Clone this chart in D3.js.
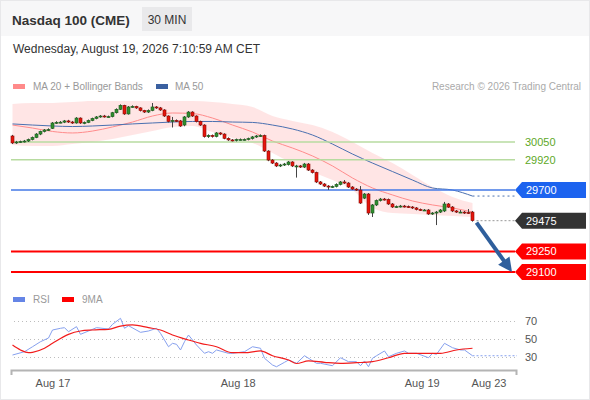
<!DOCTYPE html>
<html>
<head>
<meta charset="utf-8">
<script src="https://cdn.jsdelivr.net/npm/d3@7"></script>
<style>
  body { margin: 0; background: #fff; }
  svg text { font-family: "Liberation Sans", Arial, sans-serif; }
  .axis .domain { stroke: #b4b4b4; stroke-width: 2; }
  .axis text { fill: #555; font-size: 11px; }
  .rsi-axis .domain { display: none; }
  .rsi-axis line { stroke: #bdbdbd; stroke-dasharray: 1,3; }
  .rsi-axis text { fill: #555; font-size: 11px; }
</style>
</head>
<body>
<div id="chart"></div>
<script>

// ---- 30 min candles, index 0 = first bar on the left ----
var opens = [
  30094, 30043, 30050, 30053, 30057, 30068, 30083, 30108, 30127, 30138,
  30150, 30189, 30194, 30195, 30204, 30196, 30189, 30225, 30189, 30193,
  30207, 30222, 30233, 30240, 30235, 30235, 30264, 30289, 30318, 30255,
  30306, 30310, 30299, 30280, 30269, 30280, 30306, 30299, 30284, 30240,
  30200, 30208, 30204, 30174, 30233, 30269, 30240, 30200, 30174, 30089,
  30098, 30090, 30116, 30108, 30077, 30065, 30061, 30068, 30068, 30069,
  30075, 30087, 30094, 30097, 29984, 29918, 29896, 29875, 29882, 29885,
  29904, 29875, 29875, 29867, 29889, 29845, 29827, 29758, 29743, 29728,
  29721, 29725, 29740, 29758, 29750, 29721, 29706, 29699, 29640, 29670,
  29531, 29590, 29622, 29633, 29630, 29597, 29575, 29578, 29582, 29578,
  29575, 29568, 29557, 29553, 29553, 29524, 29531, 29538, 29546, 29597,
  29575, 29546, 29538, 29538, 29535, 29538
];
var closes = [
  30043, 30050, 30053, 30057, 30068, 30083, 30108, 30127, 30138, 30141,
  30189, 30194, 30195, 30204, 30196, 30189, 30225, 30189, 30193, 30207,
  30222, 30233, 30240, 30235, 30235, 30264, 30289, 30318, 30255, 30306,
  30310, 30299, 30280, 30269, 30280, 30306, 30299, 30284, 30240, 30200,
  30208, 30204, 30167, 30233, 30269, 30240, 30200, 30174, 30089, 30098,
  30090, 30116, 30108, 30077, 30065, 30061, 30068, 30068, 30069, 30075,
  30087, 30094, 30097, 29984, 29918, 29896, 29875, 29882, 29889, 29904,
  29875, 29875, 29867, 29889, 29845, 29827, 29758, 29743, 29728, 29721,
  29725, 29740, 29758, 29750, 29721, 29706, 29699, 29604, 29670, 29531,
  29590, 29622, 29633, 29630, 29597, 29575, 29578, 29582, 29578, 29575,
  29568, 29557, 29553, 29553, 29524, 29531, 29538, 29553, 29597, 29575,
  29546, 29538, 29538, 29535, 29531, 29475
];
var highs = [
  30102, 30058, 30060, 30065, 30075, 30090, 30115, 30133, 30145, 30150,
  30196, 30202, 30203, 30211, 30212, 30204, 30232, 30230, 30200, 30214,
  30228, 30240, 30247, 30248, 30243, 30270, 30296, 30325, 30322, 30313,
  30318, 30315, 30304, 30285, 30288, 30335, 30313, 30306, 30290, 30245,
  30233, 30215, 30211, 30240, 30276, 30275, 30245, 30206, 30180, 30106,
  30105, 30123, 30122, 30114, 30084, 30072, 30075, 30076, 30076, 30082,
  30094, 30101, 30106, 30104, 29990, 29925, 29903, 29890, 29897, 29911,
  29910, 29883, 29882, 29897, 29896, 29852, 29833, 29765, 29750, 29735,
  29732, 29748, 29765, 29772, 29757, 29728, 29713, 29728, 29677, 29677,
  29597, 29630, 29641, 29641, 29637, 29604, 29586, 29590, 29590, 29586,
  29582, 29575, 29564, 29560, 29560, 29538, 29546, 29560, 29612, 29604,
  29582, 29553, 29553, 29546, 29560, 29546
];
var lows = [
  30035, 30036, 30043, 30046, 30050, 30062, 30078, 30100, 30120, 30131,
  30145, 30182, 30187, 30188, 30189, 30182, 30184, 30182, 30180, 30188,
  30202, 30216, 30227, 30228, 30228, 30230, 30258, 30284, 30248, 30250,
  30300, 30292, 30273, 30262, 30262, 30275, 30292, 30277, 30233, 30193,
  30156, 30196, 30160, 30165, 30226, 30233, 30193, 30167, 30082, 30080,
  30082, 30084, 30100, 30070, 30058, 30054, 30054, 30061, 30061, 30062,
  30068, 30080, 30087, 29977, 29910, 29889, 29867, 29867, 29875, 29878,
  29867, 29790, 29860, 29860, 29838, 29820, 29750, 29736, 29721, 29700,
  29714, 29718, 29733, 29743, 29714, 29699, 29692, 29597, 29633, 29517,
  29502, 29582, 29615, 29622, 29590, 29568, 29568, 29571, 29571, 29568,
  29560, 29550, 29546, 29546, 29517, 29517, 29443, 29531, 29538, 29568,
  29538, 29531, 29531, 29524, 29524, 29468
];

// ---- indicators, read every 5 bars ----
var indIdx   = [0, 5, 10, 15, 20, 25, 30, 35, 40, 45, 50, 55, 60, 65, 70, 75, 80, 85, 90, 95, 100, 105, 110, 115];
var ma20     = [30174, 30152, 30127, 30116, 30130, 30160, 30196, 30240, 30262, 30258, 30225, 30174, 30123, 30057, 30006, 29948, 29875, 29787, 29714, 29663, 29619, 29590, 29568, 29538];
var bbUpper  = [30328, 30335, 30335, 30342, 30350, 30350, 30350, 30350, 30350, 30350, 30342, 30328, 30306, 30240, 30204, 30174, 30123, 30050, 29970, 29896, 29809, 29721, 29648, 29604];
var bbLower  = [30028, 30021, 30021, 30035, 30050, 30072, 30101, 30130, 30160, 30167, 30123, 30079, 30043, 29970, 29896, 29831, 29772, 29699, 29568, 29531, 29524, 29516, 29509, 29502];
var ma50     = [30182, 30174, 30167, 30163, 30167, 30174, 30182, 30189, 30196, 30200, 30200, 30196, 30193, 30174, 30145, 30101, 30035, 29962, 29896, 29834, 29772, 29714, 29699, 29655];

// ---- RSI panel ----
var rsiIdx = [0, 3, 5, 7, 9, 10, 12, 13, 14, 16, 17, 19, 21, 24, 25, 27, 28, 29, 32, 34, 36, 37, 39, 40, 41, 42, 43, 44, 45, 46, 48, 49, 50, 51, 54, 55, 58, 60, 62, 63, 65, 66, 68, 69, 71, 73, 76, 77, 80, 82, 84, 86, 87, 88, 89, 90, 91, 93, 94, 96, 98, 99, 101, 104, 105, 106, 108, 110, 112, 113, 115];
var rsiVal = [32.2, 35.9, 41.4, 47.0, 51.1, 60.0, 61.9, 62.6, 58.1, 63.7, 55.2, 58.9, 62.6, 61.1, 66.3, 73.0, 61.9, 64.8, 57.4, 58.9, 61.9, 56.3, 41.4, 45.2, 44.1, 37.8, 47.0, 54.4, 48.9, 43.3, 34.1, 35.9, 34.1, 37.8, 34.1, 34.1, 35.9, 41.4, 39.7, 28.6, 21.1, 19.2, 24.1, 26.7, 23.0, 31.4, 23.0, 23.0, 20.3, 29.2, 24.8, 24.8, 20.3, 25.6, 19.2, 28.6, 31.4, 36.7, 30.3, 34.1, 36.7, 34.1, 34.1, 29.2, 34.1, 33.0, 45.2, 40.3, 37.8, 37.8, 31.4];
var maIdx  = [0, 2, 4, 5, 8, 10, 14, 17, 20, 24, 27, 30, 34, 37, 40, 44, 47, 51, 55, 58, 62, 65, 69, 71, 74, 78, 82, 86, 90, 94, 98, 103, 107, 111, 115];
var maVal  = [43.3, 37.8, 34.8, 35.2, 39.7, 45.2, 55.2, 58.9, 60.0, 60.8, 64.4, 65.6, 62.6, 60.0, 54.4, 48.9, 45.2, 41.4, 34.8, 34.8, 36.7, 31.4, 26.7, 22.8, 25.6, 24.1, 23.0, 23.7, 24.8, 29.2, 34.1, 34.1, 34.1, 37.8, 39.7];
var rsiTicks = [30, 50, 70];

// ---- key levels ----
var levelValues = [30050, 29920, 29700, 29250, 29100];
var levelKinds  = ["res", "res", "blue", "sup", "sup"];
var lastPrice = 29475;

// ---- time labels (bar index) ----
var dateIdx    = [10, 56.3, 102.3, 119];
var dateLabels = ["Aug 17", "Aug 18", "Aug 19", "Aug 23"];

var W = 590, H = 400;
var left = 11, right = 515;

var svg = d3.select("#chart").append("svg")
    .attr("width", W)
    .attr("height", H);

// card + header
svg.append("rect").attr("x", 0.5).attr("y", 0.5).attr("width", W - 1).attr("height", H - 1)
    .attr("fill", "#fff").attr("stroke", "#e8e8ea");
svg.append("rect").attr("x", 1).attr("y", 1).attr("width", W - 2).attr("height", 35)
    .attr("fill", "#f7f7f8");
svg.append("text").attr("x", 12).attr("y", 25)
    .attr("font-size", "13.5px").attr("font-weight", "bold").attr("fill", "#333")
    .text("Nasdaq 100 (CME)");
svg.append("rect").attr("x", 142).attr("y", 7).attr("width", 50).attr("height", 24)
    .attr("fill", "#e9e9eb");
svg.append("text").attr("x", 167).attr("y", 24).attr("text-anchor", "middle")
    .attr("font-size", "12px").attr("fill", "#333").text("30 MIN");
svg.append("text").attr("x", 13).attr("y", 53)
    .attr("font-size", "12px").attr("fill", "#333")
    .text("Wednesday, August 19, 2026 7:10:59 AM CET");

// legend
svg.append("rect").attr("x", 13).attr("y", 84).attr("width", 12).attr("height", 5).attr("fill", "#ff8a8a");
svg.append("text").attr("x", 33).attr("y", 90).attr("font-size", "10px").attr("fill", "#999").text("MA 20 + Bollinger Bands");
svg.append("rect").attr("x", 156).attr("y", 84).attr("width", 12).attr("height", 5).attr("fill", "#3a60a0");
svg.append("text").attr("x", 175).attr("y", 90).attr("font-size", "10px").attr("fill", "#999").text("MA 50");
svg.append("text").attr("x", 581).attr("y", 90).attr("text-anchor", "end")
    .attr("font-size", "10px").attr("fill", "#aaa").text("Research \u00a9 2026 Trading Central");

// scales
var x = d3.scaleLinear().domain([0, 115]).range([12.5, 472.5]);
var y = d3.scaleLinear().domain([29100, 30050]).range([272, 142]);
var yr = d3.scaleLinear().domain([30, 70]).range([357, 321]);

var main = svg.append("g");

// bollinger band + moving averages
var band = d3.area()
    .x(function(d, i) { return x(indIdx[i]); })
    .y0(function(d, i) { return y(bbLower[i]); })
    .y1(function(d, i) { return y(bbUpper[i]); })
    .curve(d3.curveMonotoneX);
main.append("path").datum(indIdx).attr("d", band).attr("fill", "#ffe1e1").attr("opacity", 0.85);

var maLine = function(vals) {
    return d3.line()
        .x(function(d, i) { return x(indIdx[i]); })
        .y(function(d) { return y(d); })
        .curve(d3.curveMonotoneX)(vals);
};
main.append("path").attr("d", maLine(ma20)).attr("fill", "none").attr("stroke", "#ff8c8c").attr("stroke-width", 1);
main.append("path").attr("d", maLine(ma50)).attr("fill", "none").attr("stroke", "#4a70b0").attr("stroke-width", 1);
// MA50 projection
main.append("line")
    .attr("x1", x(115)).attr("x2", right).attr("y1", y(ma50[ma50.length - 1])).attr("y2", y(ma50[ma50.length - 1]))
    .attr("stroke", "#4a70b0").attr("stroke-dasharray", "2,3");

// level lines
var levelColor = { res: "#b7dba0", blue: "#4379e6", sup: "#ff0000" };
var levelWidth = { res: 1.5, blue: 1.5, sup: 2 };
levelValues.forEach(function(v, i) {
    main.append("line")
        .attr("x1", left).attr("x2", right)
        .attr("y1", y(v)).attr("y2", y(v))
        .attr("stroke", levelColor[levelKinds[i]])
        .attr("stroke-width", levelWidth[levelKinds[i]]);
});
// last price dotted
main.append("line")
    .attr("x1", x(115) + 4).attr("x2", right).attr("y1", y(lastPrice)).attr("y2", y(lastPrice))
    .attr("stroke", "#999").attr("stroke-dasharray", "2,2");

// candles
var bars = main.selectAll(".candle").data(closes).enter().append("g").attr("class", "candle");
bars.append("line")
    .attr("x1", function(d, i) { return x(i); })
    .attr("x2", function(d, i) { return x(i); })
    .attr("y1", function(d, i) { return y(highs[i]); })
    .attr("y2", function(d, i) { return y(lows[i]); })
    .attr("stroke", "#444").attr("stroke-width", 1);
bars.append("rect")
    .attr("x", function(d, i) { return x(i) - 1.5; })
    .attr("width", 3)
    .attr("y", function(d, i) { return y(Math.max(opens[i], d)); })
    .attr("height", function(d, i) { return Math.max(1, Math.abs(y(opens[i]) - y(d))); })
    .attr("fill", function(d, i) { return d >= opens[i] ? "#2f8f2f" : "#e5140c"; })
    .attr("stroke", function(d, i) { return d >= opens[i] ? "#1e5a1e" : "#8a0b06"; })
    .attr("stroke-width", 0.6);

// forecast arrow: from last close down to 29100
var ax0 = x(115) + 4, ay0 = y(lastPrice) + 2;
var ax1 = 512, ay1 = y(levelValues[4]);
var dx = ax1 - ax0, dy = ay1 - ay0, len = Math.sqrt(dx * dx + dy * dy);
var ux = dx / len, uy = dy / len;
main.append("line")
    .attr("x1", ax0).attr("y1", ay0)
    .attr("x2", ax1 - ux * 10).attr("y2", ay1 - uy * 10)
    .attr("stroke", "#2f5f9c").attr("stroke-width", 4);
main.append("path")
    .attr("d", "M" + ax1 + "," + ay1 +
        "L" + (ax1 - ux * 14 - uy * 7) + "," + (ay1 - uy * 14 + ux * 7) +
        "L" + (ax1 - ux * 14 + uy * 7) + "," + (ay1 - uy * 14 - ux * 7) + "Z")
    .attr("fill", "#2f5f9c");

// level labels
function tag(v, fill) {
    var yy = y(v);
    svg.append("path")
        .attr("d", "M" + right + "," + yy + "L" + (right + 7) + "," + (yy - 8) + "H586V" + (yy + 8) + "H" + (right + 7) + "Z")
        .attr("fill", fill);
    svg.append("text").attr("x", 526).attr("y", yy + 4)
        .attr("font-size", "11px").attr("fill", "#fff").text(v);
}
levelValues.forEach(function(v, i) {
    if (levelKinds[i] == "res") {
        svg.append("text").attr("x", 525).attr("y", y(v) + 4)
            .attr("font-size", "11px").attr("fill", "#5ea827").text(v);
    } else {
        tag(v, levelKinds[i] == "blue" ? "#1c63ef" : "#ff0000");
    }
});
tag(lastPrice, "#333");

// ---- RSI panel ----
svg.append("rect").attr("x", 13).attr("y", 297).attr("width", 12).attr("height", 5).attr("fill", "#6585e6");
svg.append("text").attr("x", 33).attr("y", 303).attr("font-size", "10px").attr("fill", "#999").text("RSI");
svg.append("rect").attr("x", 62).attr("y", 297).attr("width", 12).attr("height", 5).attr("fill", "#ff0000");
svg.append("text").attr("x", 82).attr("y", 303).attr("font-size", "10px").attr("fill", "#999").text("9MA");

svg.append("g")
    .attr("class", "rsi-axis")
    .attr("transform", "translate(" + right + ",0)")
    .call(d3.axisRight(yr).tickValues(rsiTicks).tickSizeInner(-(right - left)).tickPadding(10));

var rsiLine = d3.line()
    .x(function(d, i) { return x(rsiIdx[i]); })
    .y(function(d) { return yr(d); });
svg.append("path").attr("d", rsiLine(rsiVal)).attr("fill", "none").attr("stroke", "#86a0ee").attr("stroke-width", 1);
svg.append("line")
    .attr("x1", x(115)).attr("x2", 517)
    .attr("y1", yr(rsiVal[rsiVal.length - 1])).attr("y2", yr(rsiVal[rsiVal.length - 1]))
    .attr("stroke", "#86a0ee").attr("stroke-dasharray", "2,2");

var maRsiLine = d3.line()
    .x(function(d, i) { return x(maIdx[i]); })
    .y(function(d) { return yr(d); })
    .curve(d3.curveMonotoneX);
svg.append("path").attr("d", maRsiLine(maVal)).attr("fill", "none").attr("stroke", "#f21c1c").attr("stroke-width", 1.2);

// ---- time axis ----
var xa = d3.scaleLinear().domain([x.invert(left), x.invert(516)]).range([left, 516]);
svg.append("g")
    .attr("class", "axis")
    .attr("transform", "translate(0,370)")
    .call(d3.axisBottom(xa)
        .tickValues(dateIdx)
        .tickFormat(function(d, i) { return dateLabels[i]; })
        .tickSizeInner(0)
        .tickSizeOuter(5)
        .tickPadding(9));

</script>
</body>
</html>
